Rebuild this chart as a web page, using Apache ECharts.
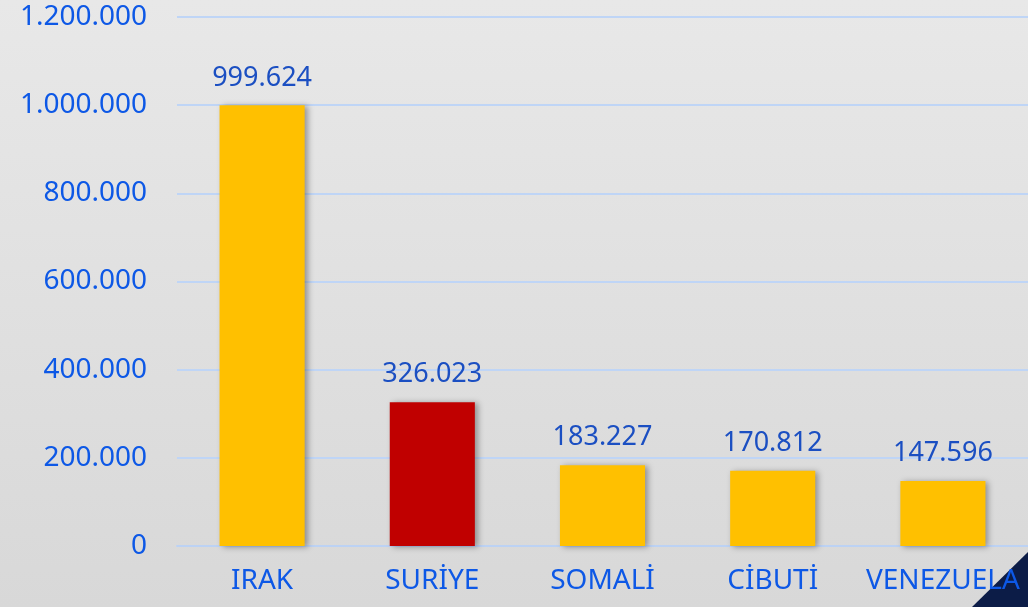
<!DOCTYPE html>
<html lang="tr">
<head>
<meta charset="utf-8" />
<title>Grafik</title>
<style>
  html, body { margin: 0; padding: 0; }
  #chart { width: 1028px; height: 607px; background: linear-gradient(#e8e8e8, #d8d8d8); }
</style>
</head>
<body>
<div id="chart"></div>
<script src="https://cdn.jsdelivr.net/npm/echarts@6/dist/echarts.min.js"></script>
<script>
// ülkeler ve değerler
const categories = ['IRAK', 'SURİYE', 'SOMALİ', 'CİBUTİ', 'VENEZUELA'];
const values = [999624, 326023, 183227, 170812, 147596];
const barColors = ['#FFC000', '#C00000', '#FFC000', '#FFC000', '#FFC000'];

function fmt(v) {
  return String(v).replace(/\B(?=(\d{3})+(?!\d))/g, '.');
}

const chart = echarts.init(document.getElementById('chart'));

const option = {
  textStyle: { fontFamily: 'Noto Sans' },
  grid: { left: 177, right: 0, top: 17, bottom: 61 },
  graphic: [{
    type: 'polygon',
    z: -10,
    shape: { points: [[972, 607], [1028, 552], [1028, 607]] },
    style: { fill: '#0c1c47' }
  }],
  xAxis: {
    type: 'category',
    data: categories,
    axisTick: { show: false },
    axisLine: { show: true, lineStyle: { color: '#bcd2f4', width: 2 } },
    axisLabel: { color: '#0d58e6', fontSize: 28, margin: 21, interval: 0 }
  },
  yAxis: {
    type: 'value',
    min: 0,
    max: 1200000,
    interval: 200000,
    axisLine: { show: false },
    axisTick: { show: false },
    splitLine: { lineStyle: { color: '#bfd5f6', width: 2 } },
    axisLabel: {
      color: '#0d58e6',
      fontSize: 28,
      margin: 30,
      formatter: fmt
    }
  },
  series: [{
    type: 'bar',
    barWidth: '50%',
    data: values.map((v, i) => ({ value: v, itemStyle: { color: barColors[i] } })),
    itemStyle: {
      shadowColor: 'rgba(0,0,0,0.35)',
      shadowBlur: 6,
      shadowOffsetX: 3,
      shadowOffsetY: 1
    },
    label: {
      show: true,
      position: 'top',
      distance: 14,
      color: '#1b4fc2',
      fontSize: 27,
      formatter: p => fmt(p.value)
    }
  }]
};

chart.setOption(option);
window.onresize = function () { chart.resize(); };
</script>
</body>
</html>
